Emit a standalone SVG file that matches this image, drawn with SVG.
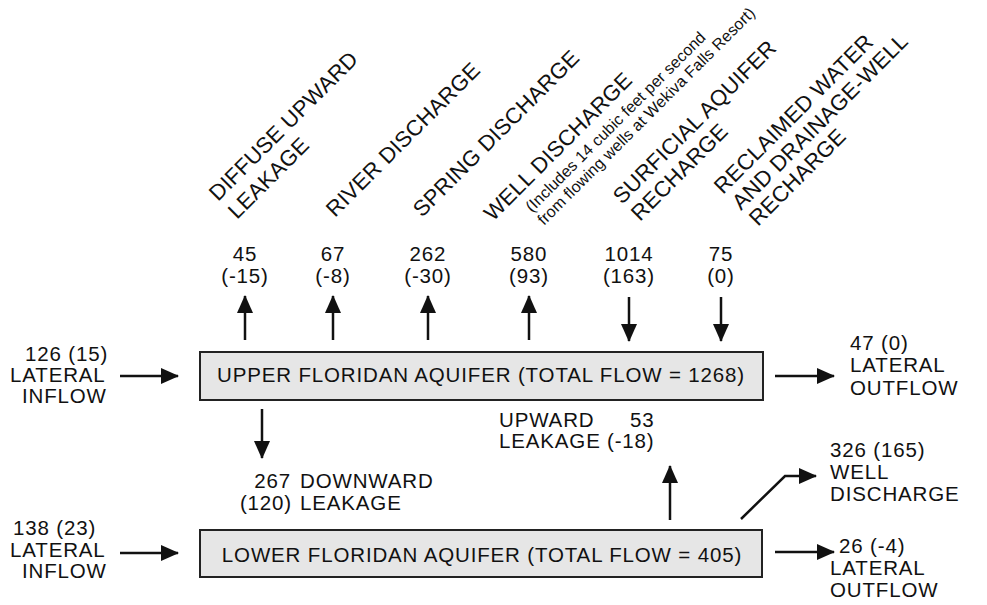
<svg xmlns="http://www.w3.org/2000/svg" width="987" height="605" viewBox="0 0 987 605">
<style>
text{font-family:"Liberation Sans",Arial,Helvetica,sans-serif;fill:#111;}
.t{font-size:20.5px;letter-spacing:0.85px;}
.r{font-size:22px;letter-spacing:0.2px;}
.s{font-size:16px;letter-spacing:0.1px;}
.box{fill:#e6e6e6;stroke:#222;stroke-width:2;}
.c{stroke:#111;stroke-width:2.5;fill:none;}
.m{text-anchor:middle;}
</style>
<defs>
<marker id="ah" viewBox="0 0 18 16" refX="17" refY="8" markerWidth="18" markerHeight="16" markerUnits="userSpaceOnUse" orient="auto">
<path d="M0,0 L18,8 L0,16 z" fill="#111"/>
</marker>
</defs>
<rect width="987" height="605" fill="#fff"/>

<g id="labels-top">
<text class="r" transform="translate(218,202) rotate(-45)">DIFFUSE UPWARD</text>
<text class="r" transform="translate(237,220) rotate(-45)">LEAKAGE</text>
<text class="r" transform="translate(335,218) rotate(-45)">RIVER DISCHARGE</text>
<text class="r" transform="translate(422,218) rotate(-45)">SPRING DISCHARGE</text>
<text class="r" transform="translate(493,222) rotate(-45)">WELL DISCHARGE</text>
<text class="s" transform="translate(532,213) rotate(-45)">(Includes 14 cubic feet per second</text>
<text class="s" transform="translate(544,226) rotate(-45)">from flowing wells at Wekiva Falls Resort)</text>
<text class="r" transform="translate(622,205) rotate(-45)">SURFICIAL AQUIFER</text>
<text class="r" transform="translate(640,222) rotate(-45)">RECHARGE</text>
<text class="r" transform="translate(723,195) rotate(-45)">RECLAIMED WATER</text>
<text class="r" transform="translate(741,211) rotate(-45)">AND DRAINAGE-WELL</text>
<text class="r" transform="translate(758,227) rotate(-45)">RECHARGE</text>
</g>

<g id="values-top">
<text class="t m" x="245" y="261">45</text><text class="t m" x="245" y="283">(-15)</text>
<text class="t m" x="333" y="261">67</text><text class="t m" x="333" y="283">(-8)</text>
<text class="t m" x="428" y="261">262</text><text class="t m" x="428" y="283">(-30)</text>
<text class="t m" x="529" y="261">580</text><text class="t m" x="529" y="283">(93)</text>
<text class="t m" x="629" y="261">1014</text><text class="t m" x="629" y="283">(163)</text>
<text class="t m" x="721" y="261">75</text><text class="t m" x="721" y="283">(0)</text>
</g>

<g id="upper-aquifer">
<rect class="box" x="200" y="352" width="563" height="48"/>
<text class="t m" x="481" y="382">UPPER FLORIDAN AQUIFER (TOTAL FLOW = 1268)</text>
</g>

<g id="lower-aquifer">
<rect class="box" x="200" y="530" width="562" height="47"/>
<text class="t m" x="482" y="562">LOWER FLORIDAN AQUIFER (TOTAL FLOW = 405)</text>
</g>

<g id="upper-inflow">
<text class="t" x="25" y="361">126 (15)</text>
<text class="t" x="10" y="382">LATERAL</text>
<text class="t" x="22" y="403">INFLOW</text>
</g>
<g id="upper-outflow">
<text class="t" x="850" y="350">47 (0)</text>
<text class="t" x="850" y="372">LATERAL</text>
<text class="t" x="850" y="395">OUTFLOW</text>
</g>
<g id="downward-leakage">
<text class="t" x="291" y="488" text-anchor="end">267</text>
<text class="t" x="300" y="488">DOWNWARD</text>
<text class="t" x="292" y="510" text-anchor="end">(120)</text>
<text class="t" x="300" y="510">LEAKAGE</text>
</g>
<g id="upward-leakage">
<text class="t" x="499" y="427">UPWARD</text>
<text class="t" x="630" y="427">53</text>
<text class="t" x="499" y="448">LEAKAGE</text>
<text class="t" x="607" y="448">(-18)</text>
</g>
<g id="lower-inflow">
<text class="t" x="13" y="535">138 (23)</text>
<text class="t" x="10" y="557">LATERAL</text>
<text class="t" x="22" y="578">INFLOW</text>
</g>
<g id="lower-well">
<text class="t" x="830" y="457">326 (165)</text>
<text class="t" x="830" y="479">WELL</text>
<text class="t" x="830" y="501">DISCHARGE</text>
</g>
<g id="lower-outflow">
<text class="t" x="839" y="553">26 (-4)</text>
<text class="t" x="830" y="575">LATERAL</text>
<text class="t" x="830" y="597">OUTFLOW</text>
</g>

<g id="connectors" class="c">
<line x1="245" y1="340" x2="245" y2="296" marker-end="url(#ah)"/>
<line x1="333" y1="340" x2="333" y2="296" marker-end="url(#ah)"/>
<line x1="428" y1="340" x2="428" y2="296" marker-end="url(#ah)"/>
<line x1="529" y1="340" x2="529" y2="296" marker-end="url(#ah)"/>
<line x1="629" y1="297" x2="629" y2="341" marker-end="url(#ah)"/>
<line x1="721" y1="297" x2="721" y2="341" marker-end="url(#ah)"/>
<line x1="120" y1="376" x2="178" y2="376" marker-end="url(#ah)"/>
<line x1="775" y1="376" x2="834" y2="376" marker-end="url(#ah)"/>
<line x1="262" y1="409" x2="262" y2="458" marker-end="url(#ah)"/>
<line x1="670" y1="520" x2="670" y2="466" marker-end="url(#ah)"/>
<polyline points="741,519 785,476 816,476" marker-end="url(#ah)"/>
<line x1="120" y1="553" x2="178" y2="553" marker-end="url(#ah)"/>
<line x1="775" y1="552" x2="834" y2="552" marker-end="url(#ah)"/>
</g>
</svg>
